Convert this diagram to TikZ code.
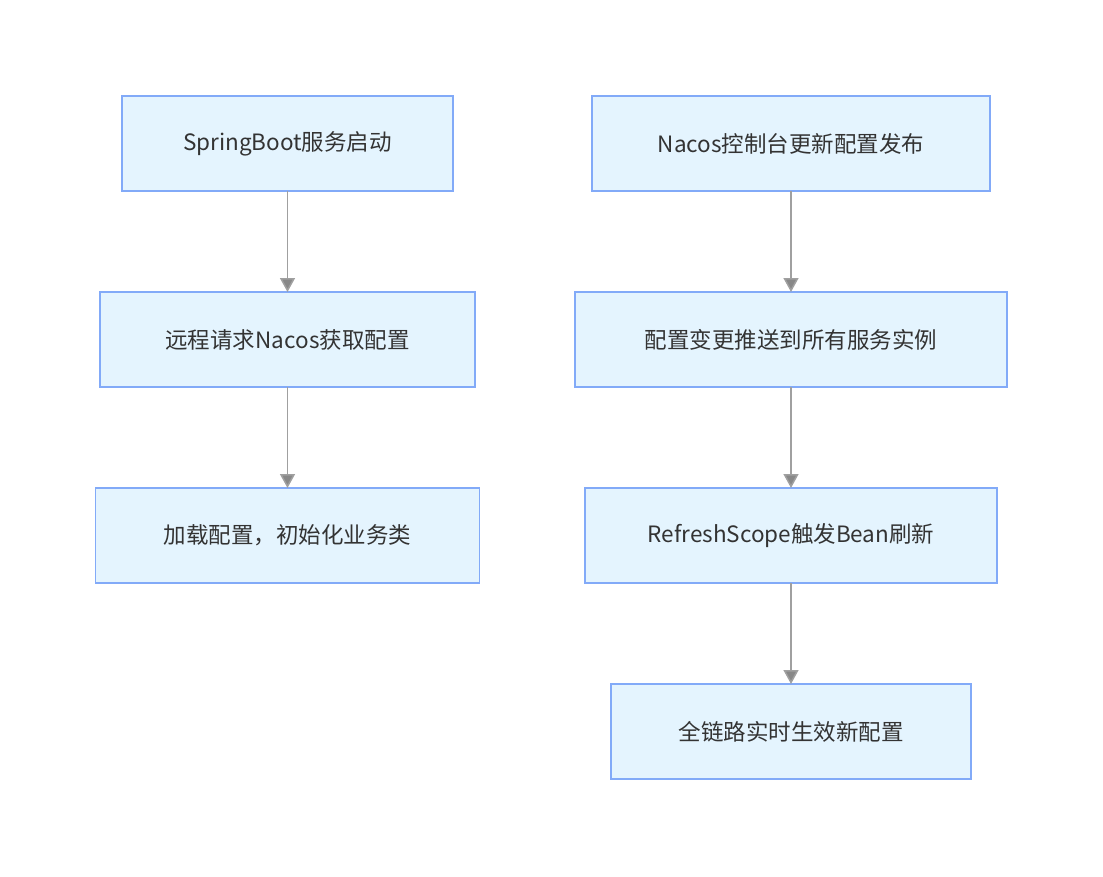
\documentclass[tikz,border=0pt]{standalone}
\usepackage{fontspec}
\setmainfont{Noto Sans CJK SC}
\usetikzlibrary{arrows.meta, positioning}
\definecolor{boxfill}{HTML}{E4F4FE}
\definecolor{boxline}{HTML}{82AAF8}
\definecolor{arrline}{HTML}{A0A0A0}
\tikzset{%
	stepbox/.style={draw=boxline, fill=boxfill, line width=1.5pt, rectangle,%
		minimum height=95pt, inner sep=0pt, outer sep=0pt, text=black!80,%
		font=\fontsize{22.5}{26}\selectfont},
	flow/.style={draw=arrline, line width=1.5pt,%
		-{Triangle[width=15pt,length=14pt,fill=arrline!85!black]}}
}

\begin{document}
\begin{tikzpicture}[x=1pt, y=1pt, node distance=101pt]
	\useasboundingbox (0,0) rectangle (1103,-876);

	% startup column
	\node[stepbox, minimum width=331pt] (boot) at (287.5,-143.5) {SpringBoot服务启动};
	\node[stepbox, minimum width=375pt, below=of boot] (fetch) {远程请求Nacos获取配置};
	\node[stepbox, minimum width=384pt, below=of fetch] (load) {加载配置，初始化业务类};

	% refresh column
	\node[stepbox, minimum width=398pt] (publish) at (791,-143.5) {Nacos控制台更新配置发布};
	\node[stepbox, minimum width=432pt, below=of publish] (push) {配置变更推送到所有服务实例};
	\node[stepbox, minimum width=412pt, below=of push] (refresh) {RefreshScope触发Bean刷新};
	\node[stepbox, minimum width=360pt, below=of refresh] (apply) {全链路实时生效新配置};

	\draw[flow] (boot) to (fetch);
	\draw[flow] (fetch) to (load);
	\draw[flow] (publish) to (push);
	\draw[flow] (push) to (refresh);
	\draw[flow] (refresh) to (apply);
\end{tikzpicture}
\end{document}
